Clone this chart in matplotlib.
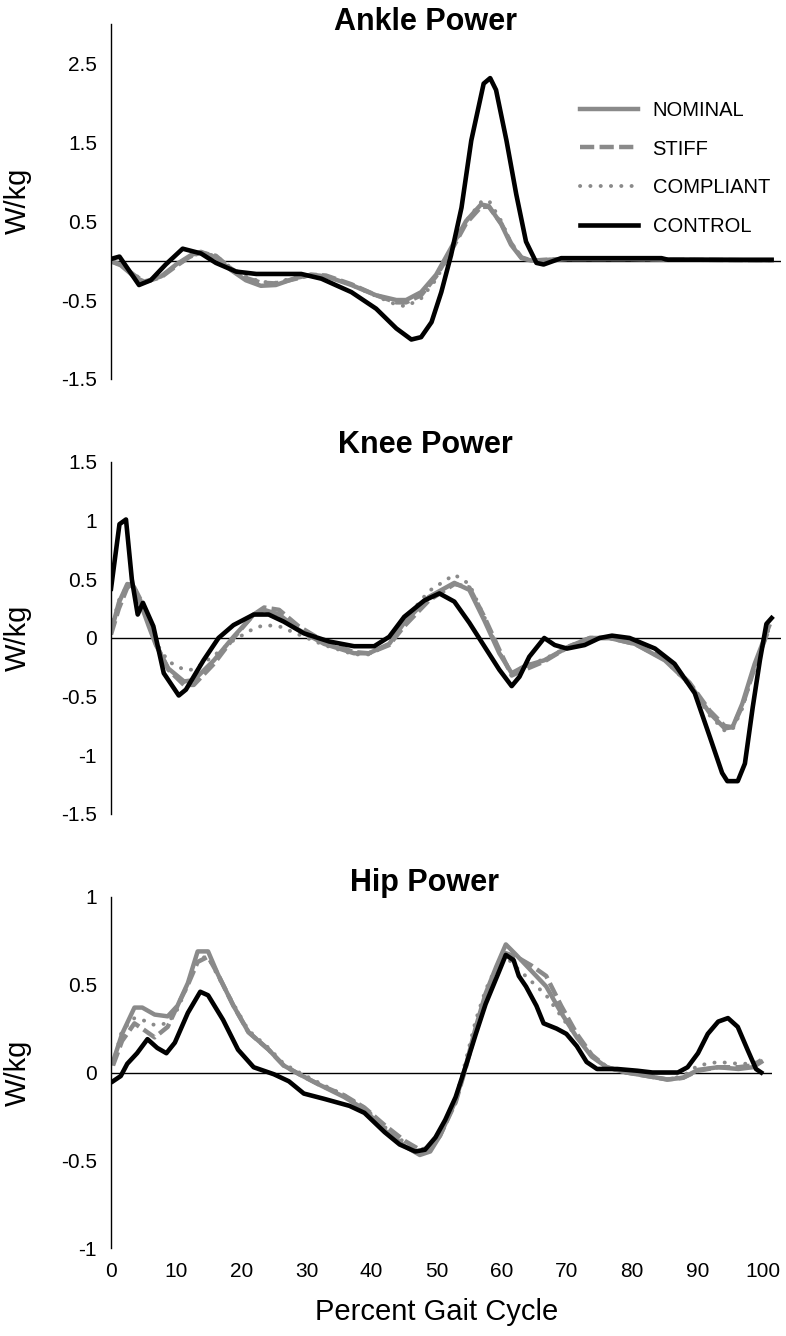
import matplotlib
matplotlib.use('Agg')
import matplotlib.pyplot as plt
from matplotlib.ticker import FuncFormatter

plt.rcParams['font.family'] = ['Liberation Sans', 'DejaVu Sans']

# ---- data (percent gait cycle vs. power in W/kg) ----
series_names = ['NOMINAL', 'STIFF', 'COMPLIANT', 'CONTROL']

# Ankle
ankle_x = [0, 1.5, 3.8, 5.2, 7.7, 10, 12.3, 13.8, 16.1, 18.4, 20.7, 23, 25.3, 28.4, 30.7,
           33, 36.9, 40.7, 43.8, 45.3, 47.6, 49.9, 52.2, 54.5, 56.8, 58, 59.9, 61.4, 63,
           64.5, 70, 80, 90, 101.4]
ankle_nominal = [-0.01, -0.06, -0.22, -0.27, -0.2, -0.05, 0.07, 0.11, 0.04, -0.12, -0.25,
                 -0.32, -0.31, -0.22, -0.18, -0.2, -0.31, -0.44, -0.5, -0.5, -0.4, -0.18,
                 0.16, 0.5, 0.71, 0.69, 0.46, 0.2, 0.03, 0.0, 0.02, 0.02, 0.01, 0.0]
ankle_stiff = [-0.01, -0.05, -0.2, -0.27, -0.21, -0.07, 0.06, 0.1, 0.06, -0.1, -0.22,
               -0.28, -0.29, -0.23, -0.18, -0.19, -0.3, -0.44, -0.53, -0.53, -0.44, -0.2,
               0.12, 0.47, 0.68, 0.68, 0.47, 0.22, 0.04, 0.0, 0.02, 0.02, 0.01, 0.0]
ankle_compliant = [-0.01, -0.04, -0.19, -0.26, -0.2, -0.06, 0.05, 0.09, 0.06, -0.09, -0.2,
                   -0.27, -0.28, -0.21, -0.17, -0.2, -0.31, -0.45, -0.56, -0.58, -0.48,
                   -0.24, 0.12, 0.5, 0.74, 0.76, 0.5, 0.22, 0.04, 0.0, 0.02, 0.02, 0.01, 0.0]
ankle_control_x = [0, 1.3, 4.3, 6.1, 8.4, 11, 13.8, 16.1, 19.2, 22.3, 29.2, 32.3, 36.9,
                   40.7, 43.8, 46.1, 47.6, 49.2, 50.7, 52.2, 53.8, 55.3, 57.2, 58.2, 59.1,
                   60.7, 62.2, 63.7, 65.3, 66.4, 69.1, 84.5, 85.5, 101.4]
ankle_control = [0.02, 0.05, -0.31, -0.25, -0.05, 0.15, 0.09, -0.03, -0.14, -0.17, -0.17,
                 -0.23, -0.4, -0.61, -0.86, -1.0, -0.97, -0.78, -0.4, 0.07, 0.67, 1.52,
                 2.24, 2.31, 2.16, 1.52, 0.84, 0.24, -0.03, -0.05, 0.03, 0.03, 0.01, 0.01]

# Knee
knee_x = [0, 1.2, 2.5, 3.3, 4.5, 5.8, 6.9, 8.8, 11.2, 12.7, 15.8, 18.8, 21.9, 23.5, 25.8,
          28.8, 32.7, 37.3, 39.6, 42.7, 45, 48.8, 52.7, 55, 57.3, 59.6, 61.5, 63.5, 66.5,
          70.4, 73.5, 76.5, 80.4, 85, 88.8, 91.9, 94.2, 95.4, 96.9, 98.8, 101]
knee_nominal = [0.05, 0.3, 0.46, 0.45, 0.3, 0.1, -0.06, -0.26, -0.37, -0.36, -0.19, 0.01,
                0.2, 0.24, 0.2, 0.07, -0.05, -0.13, -0.13, -0.05, 0.13, 0.35, 0.47, 0.41,
                0.15, -0.13, -0.3, -0.24, -0.19, -0.07, 0.0, 0.0, -0.05, -0.19, -0.39,
                -0.64, -0.77, -0.76, -0.56, -0.22, 0.1]
knee_stiff = [0.03, 0.25, 0.43, 0.46, 0.33, 0.12, -0.05, -0.27, -0.4, -0.4, -0.22, 0.0,
              0.2, 0.26, 0.24, 0.1, -0.03, -0.12, -0.13, -0.06, 0.1, 0.32, 0.46, 0.43,
              0.18, -0.1, -0.32, -0.27, -0.2, -0.07, 0.0, 0.0, -0.05, -0.18, -0.38,
              -0.62, -0.75, -0.76, -0.58, -0.25, 0.08]
knee_compliant = [0.07, 0.32, 0.45, 0.47, 0.33, 0.12, -0.04, -0.2, -0.27, -0.27, -0.15,
                  -0.02, 0.08, 0.11, 0.1, 0.03, -0.06, -0.14, -0.14, -0.05, 0.15, 0.4,
                  0.54, 0.46, 0.18, -0.12, -0.3, -0.24, -0.18, -0.07, 0.0, 0.0, -0.05,
                  -0.19, -0.4, -0.66, -0.79, -0.78, -0.6, -0.25, 0.08]
knee_control_x = [0, 1.3, 2.3, 3.2, 4.1, 4.9, 6.5, 8.1, 10.4, 11.5, 14.2, 16.5, 18.8,
                  21.9, 24.2, 26.5, 29.6, 33.5, 37.3, 40.4, 42.7, 45, 48.1, 50.4, 52.7,
                  55, 57.3, 59.6, 61.5, 62.7, 64.2, 66.5, 68.1, 70, 72.7, 75, 76.9, 79.6,
                  83.5, 86.5, 89.6, 91.9, 93.8, 94.6, 96.2, 97.3, 98.5, 99.6, 100.6, 101.4]
knee_control = [0.42, 0.97, 1.01, 0.5, 0.2, 0.3, 0.1, -0.3, -0.49, -0.44, -0.19, 0.0,
                0.11, 0.2, 0.2, 0.14, 0.04, -0.03, -0.07, -0.07, 0.01, 0.18, 0.32, 0.38,
                0.31, 0.13, -0.07, -0.27, -0.41, -0.33, -0.16, 0.0, -0.06, -0.09, -0.06,
                0.0, 0.02, 0.0, -0.09, -0.22, -0.47, -0.84, -1.15, -1.22, -1.22, -1.07,
                -0.59, -0.19, 0.12, 0.17]

# Hip
hip_x = [0.3, 1.7, 3.6, 4.8, 6.7, 8.7, 10.2, 11.8, 13.3, 14.9, 16.4, 18.8, 21.1, 24.2,
         26.5, 28.9, 32, 35.8, 38.9, 42, 45.1, 47.4, 49, 50.5, 52.9, 54.4, 56, 57.5, 59.1,
         60.6, 62.2, 64.5, 66.8, 69.1, 71.5, 73.8, 76.1, 79.1, 82.3, 85.4, 87.8, 90.1,
         93.2, 96.3, 98.5, 99.8]
hip_nominal = [0.06, 0.22, 0.37, 0.37, 0.33, 0.32, 0.38, 0.51, 0.69, 0.69, 0.56, 0.38,
               0.23, 0.13, 0.04, -0.01, -0.07, -0.14, -0.21, -0.33, -0.42, -0.47, -0.45,
               -0.36, -0.16, 0.03, 0.26, 0.45, 0.6, 0.73, 0.67, 0.58, 0.49, 0.34, 0.2,
               0.09, 0.03, 0.0, -0.02, -0.04, -0.03, 0.015, 0.03, 0.02, 0.03, 0.06]
hip_stiff = [0.04, 0.18, 0.28, 0.25, 0.2, 0.26, 0.38, 0.5, 0.63, 0.66, 0.56, 0.38, 0.23,
             0.13, 0.04, -0.01, -0.07, -0.13, -0.2, -0.3, -0.39, -0.44, -0.43, -0.36,
             -0.17, 0.02, 0.24, 0.43, 0.58, 0.68, 0.66, 0.61, 0.55, 0.38, 0.22, 0.1, 0.03,
             0.0, -0.02, -0.04, -0.03, 0.01, 0.03, 0.03, 0.04, 0.07]
hip_compliant = [0.05, 0.24, 0.31, 0.3, 0.27, 0.28, 0.36, 0.5, 0.65, 0.66, 0.55, 0.39,
                 0.24, 0.14, 0.05, 0.0, -0.06, -0.13, -0.2, -0.31, -0.4, -0.45, -0.44,
                 -0.35, -0.15, 0.06, 0.3, 0.47, 0.6, 0.66, 0.6, 0.52, 0.44, 0.32, 0.2,
                 0.09, 0.03, 0.0, -0.02, -0.04, -0.02, 0.04, 0.06, 0.05, 0.05, 0.07]
hip_control_x = [0.3, 1.5, 2.5, 4, 5.6, 7.1, 8.5, 9.8, 11.8, 13.7, 14.9, 17.2, 19.5, 21.9,
                 25, 27.3, 29.6, 32.7, 36.6, 38.9, 42, 44.3, 46.7, 48.2, 49.8, 51.3, 52.9,
                 54.4, 56, 57.5, 59.5, 60.6, 61.8, 62.6, 63.7, 65.3, 66.4, 68.4, 69.9,
                 71.5, 73, 74.6, 77.7, 80.8, 83.1, 87, 88.5, 90.1, 91.6, 93.2, 94.7, 96.2,
                 97.7, 99, 99.8]
hip_control = [-0.05, -0.02, 0.05, 0.11, 0.19, 0.14, 0.11, 0.17, 0.34, 0.46, 0.44, 0.3,
               0.13, 0.03, -0.01, -0.05, -0.12, -0.15, -0.19, -0.23, -0.34, -0.41, -0.45,
               -0.44, -0.37, -0.27, -0.14, 0.03, 0.22, 0.39, 0.57, 0.67, 0.64, 0.55, 0.49,
               0.38, 0.28, 0.25, 0.22, 0.15, 0.06, 0.02, 0.02, 0.01, 0.0, 0.0, 0.03, 0.11,
               0.22, 0.29, 0.31, 0.26, 0.13, 0.02, 0.0]

ankle_ticks = [-1.5, -0.5, 0.5, 1.5, 2.5]
knee_ticks = [-1.5, -1, -0.5, 0, 0.5, 1, 1.5]
hip_ticks = [-1, -0.5, 0, 0.5, 1]
pct_ticks = [0, 10, 20, 30, 40, 50, 60, 70, 80, 90, 100]

# ---- layout (pixel geometry of the original picture) ----
W, H = 786, 1336
x0_px, px_per_pct = 111, 6.515
GRAY = '#8a8a8a'

fig = plt.figure(figsize=(W / 100, H / 100), dpi=100)


def add_panel(top_px, bottom_px, xmax):
    ax = fig.add_axes([x0_px / W, 1 - bottom_px / H,
                       xmax * px_per_pct / W, (bottom_px - top_px) / H])
    ax.set_xlim(0, xmax)
    for side in ['top', 'right', 'bottom']:
        ax.spines[side].set_visible(False)
    ax.spines['left'].set_linewidth(1.0)
    ax.axhline(0, color='black', lw=1.0, zorder=1)
    ax.tick_params(length=0, labelsize=15, pad=10)
    ax.yaxis.set_major_formatter(FuncFormatter(lambda v, p: '%g' % v))
    ax.set_ylabel('W/kg', fontsize=21)
    ax.yaxis.set_label_coords((32 - x0_px) / (xmax * px_per_pct), 0.5)
    return ax


def draw(ax, x, nominal, stiff, compliant, cx, control):
    ax.plot(x, nominal, color=GRAY, lw=3.2, solid_joinstyle='round', label=series_names[0])
    ax.plot(x, stiff, color=GRAY, lw=3.2, dashes=(3.2, 1.2), label=series_names[1])
    ax.plot(x, compliant, color=GRAY, lw=2.8, dashes=(0.05, 2.6),
            dash_capstyle='round', label=series_names[2])
    ax.plot(cx, control, color='black', lw=3.3, solid_joinstyle='round',
            label=series_names[3])


ax1 = add_panel(23.6, 379, 102.9)
draw(ax1, ankle_x, ankle_nominal, ankle_stiff, ankle_compliant, ankle_control_x, ankle_control)
ax1.set_ylim(-1.5, 3.0)
ax1.set_yticks(ankle_ticks)
ax1.set_xticks([])

ax2 = add_panel(462, 814, 102.9)
draw(ax2, knee_x, knee_nominal, knee_stiff, knee_compliant, knee_control_x, knee_control)
ax2.set_ylim(-1.5, 1.5)
ax2.set_yticks(knee_ticks)
ax2.set_xticks([])

ax3 = add_panel(897, 1248, 101.4)
draw(ax3, hip_x, hip_nominal, hip_stiff, hip_compliant, hip_control_x, hip_control)
ax3.set_ylim(-1, 1)
ax3.set_yticks(hip_ticks)
ax3.set_xticks(pct_ticks)
ax3.set_xlabel('Percent Gait Cycle', fontsize=21)
ax3.xaxis.set_label_coords((437 - x0_px) / (101.4 * px_per_pct), -50 / 351)

# panel titles
for title, base_px in [('Ankle Power', 30), ('Knee Power', 453), ('Hip Power', 891)]:
    fig.text(425 / W, 1 - base_px / H, title, ha='center', va='baseline',
             fontsize=22, fontweight='bold')

ax1.legend(loc='upper left', bbox_to_anchor=(580 / W, 1 - 101 / H),
           bbox_transform=fig.transFigure, frameon=False, fontsize=14.5,
           handlelength=2.9, handletextpad=0.7, labelspacing=0.97,
           borderpad=0, borderaxespad=0)

plt.savefig('out.png', dpi=100)
